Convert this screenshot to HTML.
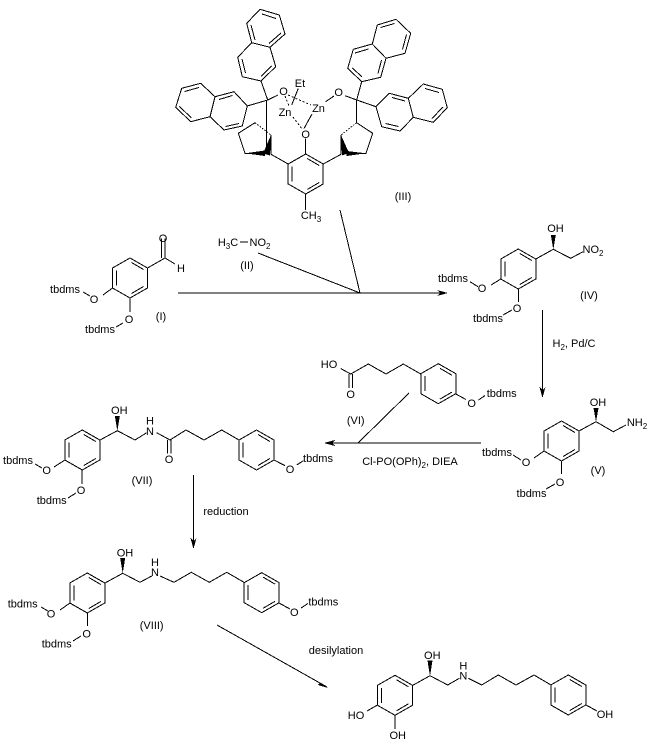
<!DOCTYPE html>
<html><head><meta charset="utf-8"><style>
html,body{margin:0;padding:0;background:#fff}
svg{display:block}
text{font-family:"Liberation Sans",Arial,sans-serif;font-size:11px;fill:#000;text-anchor:middle}
.l{fill:none;stroke:#000;stroke-width:1;shape-rendering:crispEdges}
.s{font-size:8px}
polygon{shape-rendering:crispEdges}
</style></head><body>
<svg xmlns="http://www.w3.org/2000/svg" width="650" height="747" viewBox="0 0 650 747">
<defs>
<g id="r"><path class="l" d="M0,-20L17.5,-10V10L0,20L-17.5,10V-10ZM-13.5,-7.5V7.5M1.5,-15.5L13.5,-8.5M13.5,8.5L1.5,15.5"/></g>
</defs>

<!-- catalyst III -->
<g>
<path class="l" d="M260,9.3L279.3,15L285,34L270,47.3L251.7,42.7L246.7,23.3ZM262,14L276,18.5M281,33L269,43.5M255,40L251,25"/>
<path class="l" d="M251.7,42.7L270,47.3L275.7,66.7L261,81L242.3,76.7L237.7,57.3ZM242,59L245.5,73M261,76.5L271.5,66"/>
<path class="l" d="M261,81L267.7,100L247.3,106L242.3,126L224,130L210,116.7L215,96.7L234,91.7L247.3,106M239,123.5L225.5,126.5M219,99.5L232.5,95.5"/>
<path class="l" d="M215,96.7L200.7,83.3L181.7,88.3L175.7,107.3L190.7,121.7L210,116.7M199,87.5L184.5,91.5M179.5,106.5L191.5,118"/>
<path class="l" d="M356.7,100L361.7,81.7L380.7,77.3L386,58.3L372.3,44L353.3,49.3L347.7,68.3L361.7,81.7M378,73.5L381.5,60M355,53L368.5,49M352.5,68L362,77"/>
<path class="l" d="M372.3,44L377.3,25L396,19.3L410.7,33.3L405,53.3L386,58.3M380.5,27.5L394.5,23.5M406.5,34.5L402.5,49.5"/>
<path class="l" d="M356.7,100L376,106.7L381.7,126.7L400,131L413.3,117.3L408.3,98.3L389.3,93.3L376,106.7M385.5,123.5L398.5,126.5M392,97.5L405,101"/>
<path class="l" d="M408.3,98.3L423.3,84L442.3,89.3L447.3,107.7L433.3,122.3L413.3,117.3M425,88.5L439,92.5M443,107L432,118.5"/>
<path class="l" d="M267.7,100L278,95M345,95.7L356.7,100M325.7,101.7L334,96M298.3,88.3L291.7,105M312,114L304,128.5M305.7,138.3V154.3"/>
<path class="l" stroke-dasharray="2 2" d="M285,96L289,106M288,95L311,105M293,117L302,129"/>
<use href="#r" x="305.7" y="174"/>
<path class="l" d="M305.7,194V210M288.2,164L271,154.3M323.2,164L341,154.3"/>
<path class="l" d="M255,122.7L238.3,133.3L245,153.3L265,153.3M271,135V154.3M266.7,100V147M356.7,100V122.7L372.7,133.3L366,153.3L346.7,153.3M341,135V154.3"/>
<path class="l" stroke-dasharray="1.5 1.5" d="M255,122.7L271,135M356.7,122.7L341,135"/>
</g>
<polygon points="245,153.3 265,150.5 265,156"/>
<polygon points="271,135 263,153.5 270,155.5"/>
<polygon points="366,153.3 346.7,151 346.7,156"/>
<polygon points="341,135 342,155.5 349,153"/>
<text x="283.5" y="95">O</text><text x="338.7" y="96">O</text><text x="300" y="87">Et</text>
<text x="285" y="116">Zn</text><text x="318.5" y="112">Zn</text><text x="305.7" y="138">O</text>
<text x="311" y="219">CH<tspan class="s" dy="3">3</tspan></text>
<text x="403" y="200">(III)</text>

<!-- I -->
<use href="#r" x="130" y="278"/>
<path class="l" d="M147.5,268L165,258L175,264M161.5,258V238.5M165,258V238.5M112.5,288L103,295M130,298V312M83,292L90,296M116,327L123,323"/>
<text x="163" y="242">O</text><text x="181" y="272">H</text>
<text x="94" y="303">O</text><text x="65" y="293">tbdms</text>
<text x="129" y="323">O</text><text x="100" y="333">tbdms</text>
<text x="161" y="320">(I)</text>

<!-- II -->
<text x="228" y="246">H<tspan class="s" dy="3">3</tspan><tspan dy="-3">C</tspan></text>
<path class="l" d="M240,242H248"/>
<text x="260" y="246">NO<tspan class="s" dy="3">2</tspan></text>
<text x="247" y="269">(II)</text>

<!-- Arrows -->
<path class="l" d="M178,293H446M258,253L360,293M340,210L360,293M542.5,310V396M481,443H326M409,393L358,443M193.5,475V547M217,625L327,687"/>
<polygon points="448,293 437,290 440,293 437,296"/>
<polygon points="542.5,398 539.5,387 542.5,390 545.5,387"/>
<polygon points="324,443 335,440 332,443 335,446"/>
<polygon points="193.5,549 190.5,538 193.5,541 196.5,538"/>
<polygon points="328,688 318,685 320,682.5"/>

<!-- IV -->
<use href="#r" x="518.3" y="269"/>
<polygon points="553.3,249.5 550.8,235 555.8,235"/>
<path class="l" d="M535.8,259L553.3,249.3L570.7,258.3L583,251.7M500.8,279L491,285M518.3,289V302M470,281.7L478,286.7M503,315L512,310"/>
<text x="555.5" y="232">OH</text>
<text x="593" y="253" >NO<tspan class="s" dy="3">2</tspan></text>
<text x="482" y="292">O</text><text x="453" y="282">tbdms</text>
<text x="517" y="312">O</text><text x="488" y="322">tbdms</text>
<text x="589" y="299">(IV)</text>
<text x="574" y="347">H<tspan class="s" dy="3">2</tspan><tspan dy="-3">,  Pd/C</tspan></text>

<!-- V -->
<use href="#r" x="561.5" y="441"/>
<polygon points="596,421.7 593.5,408 598.5,408"/>
<path class="l" d="M579,431L596,421.7L613.3,431.7L626,425M544,451L534,458M561.5,461V474M513,455L521,460M546,489L555,484"/>
<text x="598" y="406">OH</text>
<text x="637" y="426">NH<tspan class="s" dy="3">2</tspan></text>
<text x="526" y="466">O</text><text x="497" y="456">tbdms</text>
<text x="560" y="486">O</text><text x="531.5" y="497">tbdms</text>
<text x="598" y="474">(V)</text>

<!-- VI -->
<use href="#r" x="438.3" y="383.7"/>
<path class="l" d="M420.8,374L403.3,364L386,374L368.3,364L350.7,374L340.7,368.5M349,374V388M352.5,374V388M455.8,394L466,399.5M478.5,400L485,395.5"/>
<text x="329" y="368">HO</text><text x="350.7" y="398">O</text>
<text x="471.7" y="407">O</text><text x="501.7" y="397">tbdms</text>
<text x="355.7" y="424">(VI)</text>
<text x="410" y="465">Cl-PO(OPh)<tspan class="s" dy="3">2</tspan><tspan dy="-3">, DIEA</tspan></text>

<!-- VII -->
<use href="#r" x="82.3" y="450"/>
<polygon points="117.3,431 114.8,416 119.8,416"/>
<path class="l" d="M100,440L117.3,430.7L135,440L146.7,432.7M65,460L54,467M82,470V484M35,464L42,468M68,498L76,493"/>
<path class="l" d="M156.7,432.7L170,440L186,430L204,440L221.7,430L239,440M167.5,440V453.5M171,440V453.5"/>
<use href="#r" x="256.5" y="450"/>
<path class="l" d="M274,460L285,465.7M296.7,465L303.3,460.7"/>
<text x="119.3" y="414">OH</text><text x="150" y="424.5">H</text><text x="150" y="435">N</text>
<text x="169" y="463">O</text><text x="290" y="473">O</text><text x="318" y="462">tbdms</text>
<text x="46.7" y="474">O</text><text x="18" y="464">tbdms</text>
<text x="81" y="494">O</text><text x="51.7" y="504">tbdms</text>
<text x="142" y="484">(VII)</text>
<text x="226" y="515">reduction</text>

<!-- VIII -->
<use href="#r" x="87.3" y="593"/>
<polygon points="122.7,573.5 120.2,558 125.2,558"/>
<path class="l" d="M105,583L122.7,573.3L140,582.3L151.7,576M160,576L174,582.3L191.3,572.3L209.3,582.3L226.7,572.3L244,582.3M70,603L60,610M87.3,613V626M41,607L48,611M73,641L81,636"/>
<use href="#r" x="261.7" y="592.7"/>
<path class="l" d="M279,603L290,609M301,608L308,603.5"/>
<text x="125" y="556.5">OH</text><text x="155" y="566">H</text><text x="155" y="576">N</text>
<text x="294.3" y="616">O</text><text x="323.3" y="605.5">tbdms</text>
<text x="51" y="617.5">O</text><text x="22.7" y="607.5">tbdms</text>
<text x="86.7" y="637.5">O</text><text x="56.7" y="647.5">tbdms</text>
<text x="151.7" y="629">(VIII)</text>
<text x="336" y="654">desilylation</text>

<!-- Final -->
<use href="#r" x="395" y="695.3"/>
<polygon points="430,676 427.5,660.7 432.5,660.7"/>
<path class="l" d="M412.5,685.5L430,675.7L447.7,685L459.3,678.3M468.3,678.3L481.7,685L498.3,675L516,685L534,675L551,685M377.5,705L367,711M395,715.3V729"/>
<use href="#r" x="568.3" y="695"/>
<path class="l" d="M586,705L597,711"/>
<text x="432.3" y="659">OH</text><text x="463.3" y="669.5">H</text><text x="463.3" y="679.5">N</text>
<text x="605" y="718">OH</text><text x="356" y="719">HO</text><text x="397.7" y="739">OH</text>
</svg>
</body></html>
